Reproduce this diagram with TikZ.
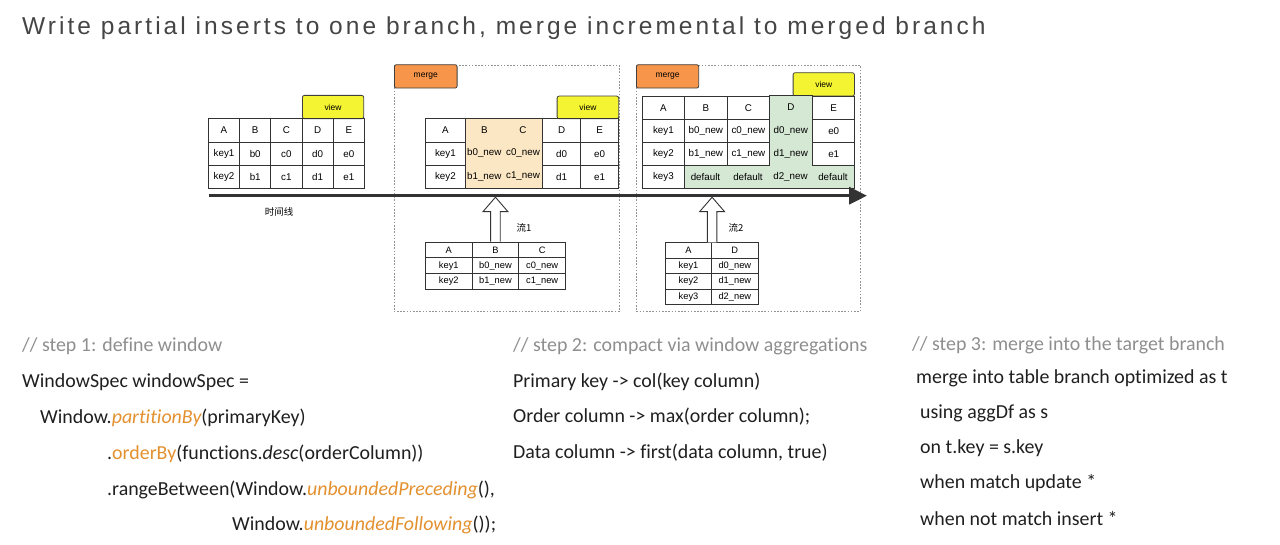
\documentclass[tikz,border=0pt]{standalone}
\usepackage{fontspec}
\setmainfont{Liberation Sans}
\newfontfamily\codefont[Ligatures={NoCommon}]{Carlito}
\newfontfamily\titlefont[LetterSpace=12.4]{Liberation Sans}
\newfontfamily\cjk{Noto Sans CJK SC}
\usetikzlibrary{arrows.meta, calc}

\definecolor{titleGray}{HTML}{454545}
\definecolor{cmtGray}{HTML}{8E8E8E}
\definecolor{kwOrange}{HTML}{E3902F}
\definecolor{mergeOrange}{HTML}{F7954B}
\definecolor{viewYellow}{HTML}{F4F433}
\definecolor{newBeige}{HTML}{FCE7C4}
\definecolor{newGreen}{HTML}{D5E8D4}
\definecolor{lineGray}{HTML}{333333}

\newcommand{\kw}[1]{\textcolor{kwOrange}{#1}}
\newcommand{\kwi}[1]{\textcolor{kwOrange}{\itshape #1}}

\begin{document}
\begin{tikzpicture}[
    x=1pt, y=-1pt,
    cell/.style={draw=lineGray, line width=0.8pt, inner sep=0pt, anchor=north west, font=\fontsize{9.8}{11}\selectfont},
    cellsize/.style 2 args={minimum width=#1pt, minimum height=#2pt},
    plain/.style={inner sep=0pt, font=\fontsize{9.8}{11}\selectfont},
    tag/.style={draw=black!75, rounded corners=2pt, line width=0.8pt, inner sep=0pt, anchor=north west, font=\fontsize{8.5}{10}\selectfont},
    branch/.style={draw=gray!85, line width=0.9pt, dash pattern=on 1.6pt off 1.6pt},
    timeline/.style={draw=lineGray, line width=3.5pt, -{Triangle[length=18pt, width=17pt]}},
    push/.style={draw=lineGray, line width=0.9pt, fill=white, line join=miter},
    streamlabel/.style={inner sep=0pt, font=\cjk\fontsize{9.5}{11}\selectfont},
    code/.style={anchor=base west, inner sep=0pt, font=\codefont\fontsize{19.9}{23}\selectfont, text=black!88},
    comment/.style={code, text=cmtGray}
]
    \useasboundingbox (0,0) rectangle (1280,545);

    % title
    \node[anchor=base west, inner sep=0pt, text=titleGray, font=\titlefont\fontsize{24.5}{28}\selectfont] (title) at (22,35)
        {Write partial inserts to one branch, merge incremental to merged branch};

    % branch boxes
    \draw[branch] (394,65) rectangle (619,311.7);
    \draw[branch] (636.7,65) rectangle (860,311.7);

    % base table
    \node[tag, fill=viewYellow, cellsize={61.3}{23.3}] (view0) at (302,95) {view};
    \foreach \row [count=\ri from 0] in {{A,B,C,D,E},{key1,b0,c0,d0,e0},{key2,b1,c1,d1,e1}}
        \foreach \txt [count=\ci from 0] in \row
            \node[cell, cellsize={31.2}{23.3}] (base-\ri-\ci) at (208+31.2*\ci, 118.3+23.3*\ri) {\txt};

    % merge 1 table
    \node[tag, fill=mergeOrange, cellsize={62.7}{23.4}] (merge1) at (394,64.3) {merge};
    \node[tag, fill=viewYellow, cellsize={61.6}{22.6}] (view1) at (556.7,95.7) {view};
    \node[cell, fill=newBeige, cellsize={77.3}{70}] (m1-new) at (465,118.3) {};
    \foreach \txt [count=\ri from 0] in {A,key1,key2}
        \node[cell, cellsize={40}{23.3}] (m1-\ri-0) at (425, 118.3+23.3*\ri) {\txt};
    \foreach \b/\cc [count=\ri from 0] in {B/C, b0\_new/c0\_new, b1\_new/c1\_new} {
        \node[plain] (m1-\ri-1) at (484.3, 129.95+23.3*\ri) {\b};
        \node[plain] (m1-\ri-2) at (523, 129.95+23.3*\ri) {\cc};
    }
    \foreach \d/\e [count=\ri from 0] in {D/E, d0/e0, d1/e1} {
        \node[cell, cellsize={37.7}{23.3}] (m1-\ri-3) at (542.3, 118.3+23.3*\ri) {\d};
        \node[cell, cellsize={38.3}{23.3}] (m1-\ri-4) at (580, 118.3+23.3*\ri) {\e};
    }

    % merge 2 table
    \node[tag, fill=mergeOrange, cellsize={62.3}{23.4}] (merge2) at (636,64.3) {merge};
    \node[tag, fill=viewYellow, cellsize={61.3}{23.4}] (view2) at (792.7,72.3) {view};
    \draw[fill=newGreen, draw=lineGray, line width=0.8pt] (769.3,95.7) -- (812.3,95.7) -- (812.3,165) -- (854.3,165)
        -- (854.3,188.3) -- (684.3,188.3) -- (684.3,165) -- (769.3,165) -- cycle;
    \foreach \txt [count=\ri from 0] in {A,key1,key2,key3}
        \node[cell, cellsize={42.6}{23.2}] (m2-\ri-0) at (641.7, 95.7+23.2*\ri) {\txt};
    \foreach \b/\cc/\e [count=\ri from 0] in {B/C/E, b0\_new/c0\_new/e0, b1\_new/c1\_new/e1} {
        \node[cell, cellsize={42.4}{23.2}] (m2-\ri-1) at (684.3, 95.7+23.2*\ri) {\b};
        \node[cell, cellsize={42.6}{23.2}] (m2-\ri-2) at (726.7, 95.7+23.2*\ri) {\cc};
        \node[cell, cellsize={42}{23.2}] (m2-\ri-4) at (812.3, 95.7+23.2*\ri) {\e};
    }
    \foreach \d [count=\ri from 0] in {D, d0\_new, d1\_new}
        \node[plain] (m2-\ri-3) at (790.8, 107.3+23.2*\ri) {\d};
    \foreach \txt [count=\ci from 1] in {default,default,d2\_new,default}
        \node[plain] (m2-3-\ci) at (663+42.5*\ci, 176.9) {\txt};

    % incoming streams
    \foreach \row [count=\ri from 0] in {{A,B,C},{key1,b0\_new,c0\_new},{key2,b1\_new,c1\_new}}
        \foreach \txt [count=\ci from 0] in \row
            \node[cell, cellsize={46.7}{15.75}, font=\fontsize{9.3}{10}\selectfont] (s1-\ri-\ci) at (425+46.7*\ci, 241.7+15.75*\ri) {\txt};
    \foreach \row [count=\ri from 0] in {{A,D},{key1,d0\_new},{key2,d1\_new},{key3,d2\_new}}
        \foreach \txt [count=\ci from 0] in \row
            \node[cell, cellsize={46.3}{15.5}, font=\fontsize{9.3}{10}\selectfont] (s2-\ri-\ci) at (665+46.3*\ci, 242.3+15.5*\ri) {\txt};

    % time line
    \coordinate (tl-start) at (209,195.7);
    \coordinate (tl-end) at (867,195.7);
    \coordinate (tip1) at ($(s1-0-1.north |- tl-start)+(0,1.5)$);
    \coordinate (tip2) at ($(s2-0-0.north east |- tl-start)+(0,1.5)$);

    \draw[push] ($(s1-0-1.north)+(-4.8,0)$) -- ($(tip1)+(-4.8,14.5)$) -- ($(tip1)+(-12.5,14.5)$) -- (tip1)
        -- ($(tip1)+(12.5,14.5)$) -- ($(tip1)+(4.8,14.5)$) -- ($(s1-0-1.north)+(4.8,0)$);
    \draw[push] ($(s2-0-0.north east)+(-4.8,0)$) -- ($(tip2)+(-4.8,14.5)$) -- ($(tip2)+(-12.5,14.5)$) -- (tip2)
        -- ($(tip2)+(12.5,14.5)$) -- ($(tip2)+(4.8,14.5)$) -- ($(s2-0-0.north east)+(4.8,0)$);
    \draw[timeline] (tl-start) -- (tl-end);

    \node[streamlabel] (time-label) at (279,212) {时间线};
    \node[streamlabel] (flow1) at (524,227.7) {流1};
    \node[streamlabel] (flow2) at (736,227.7) {流2};

    % step 1
    \node[comment] (s1c) at (22,352) {// step 1: define window};
    \node[code] (w1) at (22,388) {WindowSpec windowSpec =};
    \node[code] (w2) at (40,423) {Window.\kwi{partitionBy}(primaryKey)};
    \node[code] (w3) at (107,459) {.\kw{orderBy}(functions.\textit{desc}(orderColumn))};
    \node[code] (w4) at (107,495) {.rangeBetween(Window.\kwi{unboundedPreceding}(),};
    \node[code] (w5) at (232,530) {Window.\kwi{unboundedFollowing}());};

    % step 2
    \node[comment] (s2c) at (513,352) {// step 2: compact via window aggregations};
    \node[code] (a1) at (513,387) {Primary key -> col(key column)};
    \node[code] (a2) at (513,422) {Order column -> max(order column);};
    \node[code] (a3) at (513,458) {Data column -> first(data column, true)};

    % step 3
    \node[comment] (s3c) at (912,350) {// step 3: merge into the target branch};
    \node[code] (g1) at (916,383) {merge into table branch optimized as t};
    \node[code] (g2) at (920,418) {using aggDf as s};
    \node[code] (g3) at (920,453) {on t.key = s.key};
    \node[code] (g4) at (920,488.5) {when match update *};
    \node[code] (g5) at (920,525) {when not match insert *};
\end{tikzpicture}
\end{document}
